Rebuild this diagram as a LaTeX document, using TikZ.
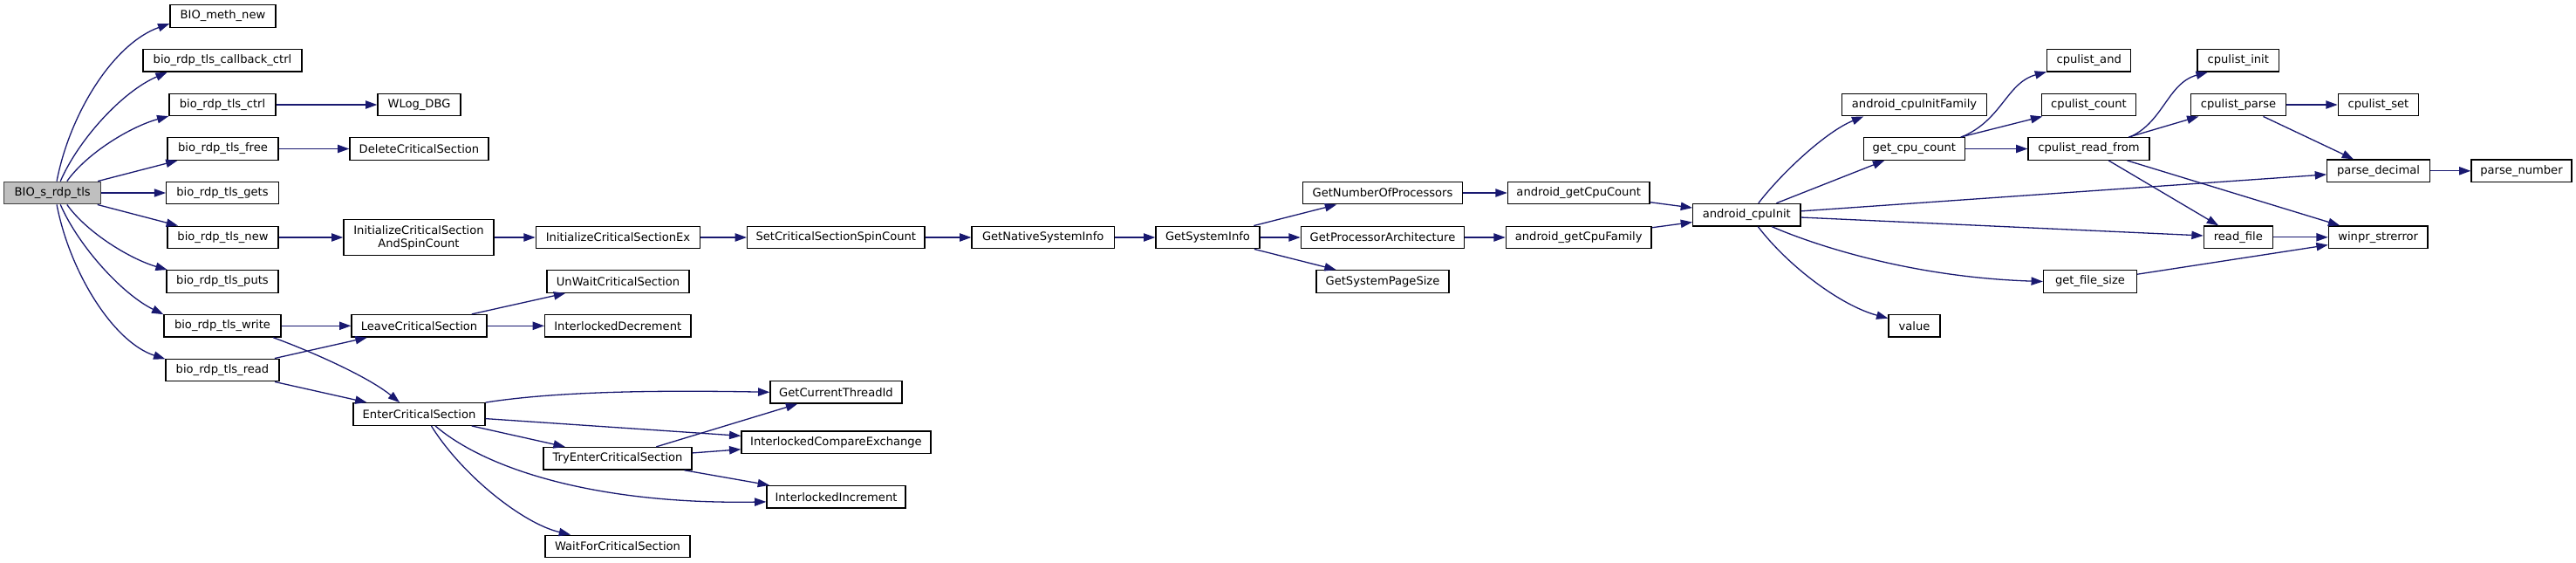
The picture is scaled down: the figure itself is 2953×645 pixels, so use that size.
\documentclass[tikz,border=0pt]{standalone}
\usepackage{fontspec}
\setmainfont{DejaVu Sans}
\usetikzlibrary{arrows.meta}
\definecolor{edgecol}{HTML}{191970}
\definecolor{rootfill}{HTML}{BFBFBF}
\definecolor{rootdraw}{HTML}{404040}
\tikzset{
  box/.style={draw=black, fill=white, line width=1.3pt, inner sep=0pt,
    minimum height=25.6pt, text=black, align=center,
    font=\fontsize{13.1}{15}\selectfont},
  rootbox/.style={box, fill=rootfill, draw=rootdraw},
  conn/.style={draw=edgecol, line width=1.3pt,
    -{Triangle[length=13.3pt,width=9.3pt]}}
}
\newcommand{\mybox}[5]{\node[box, minimum width=#4pt] (#1) at (#2,#3) {#5};}
\begin{document}
\begin{tikzpicture}[x=1pt,y=-1pt]
\useasboundingbox (0,0) rectangle (2953,645);
% nodes
\node[rootbox, minimum width=111pt] (root) at (60.2,221) {BIO\_s\_rdp\_tls};
\mybox{meth}{255.5}{18.5}{121}{BIO\_meth\_new}
\mybox{cb}{255}{69.3}{182}{bio\_rdp\_tls\_callback\_ctrl}
\mybox{ctrl}{255}{120}{122}{bio\_rdp\_tls\_ctrl}
\mybox{wlog}{480.5}{120}{95}{WLog\_DBG}
\mybox{free}{255.5}{170.5}{127}{bio\_rdp\_tls\_free}
\mybox{del}{480.5}{170.5}{159}{DeleteCriticalSection}
\mybox{gets}{255}{221}{128.6}{bio\_rdp\_tls\_gets}
\mybox{new}{255.5}{272}{127}{bio\_rdp\_tls\_new}
\node[box, minimum width=172pt, minimum height=40.6pt] (icsasc) at (480,272) {InitializeCriticalSection\\AndSpinCount};
\mybox{puts}{255}{322.5}{128}{bio\_rdp\_tls\_puts}
\mybox{write}{255}{373.3}{134}{bio\_rdp\_tls\_write}
\mybox{read}{255}{424}{130}{bio\_rdp\_tls\_read}
\mybox{leave}{480.5}{373.3}{155}{LeaveCriticalSection}
\mybox{enter}{480.5}{474.5}{151}{EnterCriticalSection}
\mybox{icsex}{708.5}{272}{188.4}{InitializeCriticalSectionEx}
\mybox{setcs}{958.3}{272}{203.3}{SetCriticalSectionSpinCount}
\mybox{unwait}{708.5}{322.5}{163}{UnWaitCriticalSection}
\mybox{idec}{708.3}{373.3}{167.3}{InterlockedDecrement}
\mybox{gct}{958.5}{449.3}{151}{GetCurrentThreadId}
\mybox{ice}{958.5}{506.7}{217}{InterlockedCompareExchange}
\mybox{tryenter}{708}{525.3}{170}{TryEnterCriticalSection}
\mybox{iinc}{958.5}{569.3}{159}{InterlockedIncrement}
\mybox{wait}{708}{626}{166}{WaitForCriticalSection}
\mybox{gnsi}{1195.7}{272}{163.3}{GetNativeSystemInfo}
\mybox{gsi}{1384.5}{272}{119}{GetSystemInfo}
\mybox{gnop}{1585}{221}{183.4}{GetNumberOfProcessors}
\mybox{gpa}{1585}{272}{187.4}{GetProcessorArchitecture}
\mybox{gsps}{1585}{322.5}{152}{GetSystemPageSize}
\mybox{agcc}{1809.7}{221}{162.7}{android\_getCpuCount}
\mybox{agcf}{1809.7}{272}{166.7}{android\_getCpuFamily}
\mybox{aci}{2002.3}{246.2}{123.3}{android\_cpuInit}
\mybox{acif}{2194.5}{120}{165.6}{android\_cpuInitFamily}
\mybox{gcc}{2194.3}{170.5}{116}{get\_cpu\_count}
\mybox{gfs}{2396}{322.5}{107}{get\_file\_size}
\mybox{val}{2194.5}{373.3}{59}{value}
\mybox{cand}{2394.7}{69.3}{96}{cpulist\_and}
\mybox{ccount}{2394.5}{120}{108.4}{cpulist\_count}
\mybox{crf}{2394.5}{170.5}{139}{cpulist\_read\_from}
\mybox{cinit}{2565.8}{69.3}{93.7}{cpulist\_init}
\mybox{cparse}{2566}{120}{108.6}{cpulist\_parse}
\mybox{cset}{2726.5}{120}{92.4}{cpulist\_set}
\mybox{pd}{2726.5}{195.8}{117.6}{parse\_decimal}
\mybox{pn}{2890.5}{195.8}{115}{parse\_number}
\mybox{rf}{2565.8}{271.8}{79}{read\_file}
\mybox{winpr}{2726.2}{271.8}{113.7}{winpr\_strerror}
% edges from root
\draw[conn] (root.70) .. controls (80,130) and (130,50) .. (meth.188);
\draw[conn] (root.56) .. controls (90,160) and (140,105) .. (cb.192);
\draw[conn] (root.39) .. controls (100,175) and (150,145) .. (ctrl.192);
\draw[conn] (root) -- (free);
\draw[conn] (root) -- (gets);
\draw[conn] (root) -- (new);
\draw[conn] (root.-39) .. controls (100,267) and (150,297) .. (puts.168);
\draw[conn] (root.-56) .. controls (90,282) and (140,337) .. (write.169);
\draw[conn] (root.-70) .. controls (80,312) and (130,392) .. (read.169);
% second level
\draw[conn] (ctrl) -- (wlog);
\draw[conn] (free) -- (del);
\draw[conn] (new) -- (icsasc);
\draw[conn] (write) -- (leave);
\draw[conn] (write.-13) .. controls (350,400) and (420,430) .. (enter.149);
\draw[conn] (read) -- (leave);
\draw[conn] (read) -- (enter);
\draw[conn] (icsasc) -- (icsex);
\draw[conn] (icsex) -- (setcs);
\draw[conn] (setcs) -- (gnsi);
\draw[conn] (gnsi) -- (gsi);
\draw[conn] (gsi) -- (gnop);
\draw[conn] (gsi) -- (gpa);
\draw[conn] (gsi) -- (gsps);
\draw[conn] (gnop) -- (agcc);
\draw[conn] (gpa) -- (agcf);
\draw[conn] (agcc) -- (aci);
\draw[conn] (agcf) -- (aci);
% critical sections
\draw[conn] (leave) -- (unwait);
\draw[conn] (leave) -- (idec);
\draw[conn] (enter.10) .. controls (640,448) and (760,447) .. (gct.west);
\draw[conn] (enter) -- (ice);
\draw[conn] (enter) -- (tryenter);
\draw[conn] (enter.-36) .. controls (560,540) and (690,578) .. (iinc.184);
\draw[conn] (enter.-44) .. controls (530,545) and (600,600) .. (wait.166);
\draw[conn] (tryenter) -- (gct);
\draw[conn] (tryenter) -- (ice);
\draw[conn] (tryenter) -- (iinc);
% android cpu
\draw[conn] (aci.45) .. controls (2045,195) and (2095,150) .. (acif.193);
\draw[conn] (aci) -- (gcc);
\draw[conn] (aci) -- (pd);
\draw[conn] (aci) -- (rf);
\draw[conn] (aci.-25) .. controls (2090,285) and (2200,318) .. (gfs.west);
\draw[conn] (aci.-46) .. controls (2050,305) and (2110,350) .. (val.164);
\draw[conn] (gcc.14) .. controls (2295,138) and (2300,95) .. (cand.195);
\draw[conn] (gcc) -- (ccount);
\draw[conn] (gcc) -- (crf);
\draw[conn] (crf.16) .. controls (2480,140) and (2485,95) .. (cinit.201);
\draw[conn] (crf) -- (cparse);
\draw[conn] (crf) -- (rf);
\draw[conn] (crf) -- (winpr);
\draw[conn] (cparse) -- (cset);
\draw[conn] (cparse) -- (pd);
\draw[conn] (pd) -- (pn);
\draw[conn] (rf) -- (winpr);
\draw[conn] (gfs) -- (winpr);
\end{tikzpicture}
\end{document}
